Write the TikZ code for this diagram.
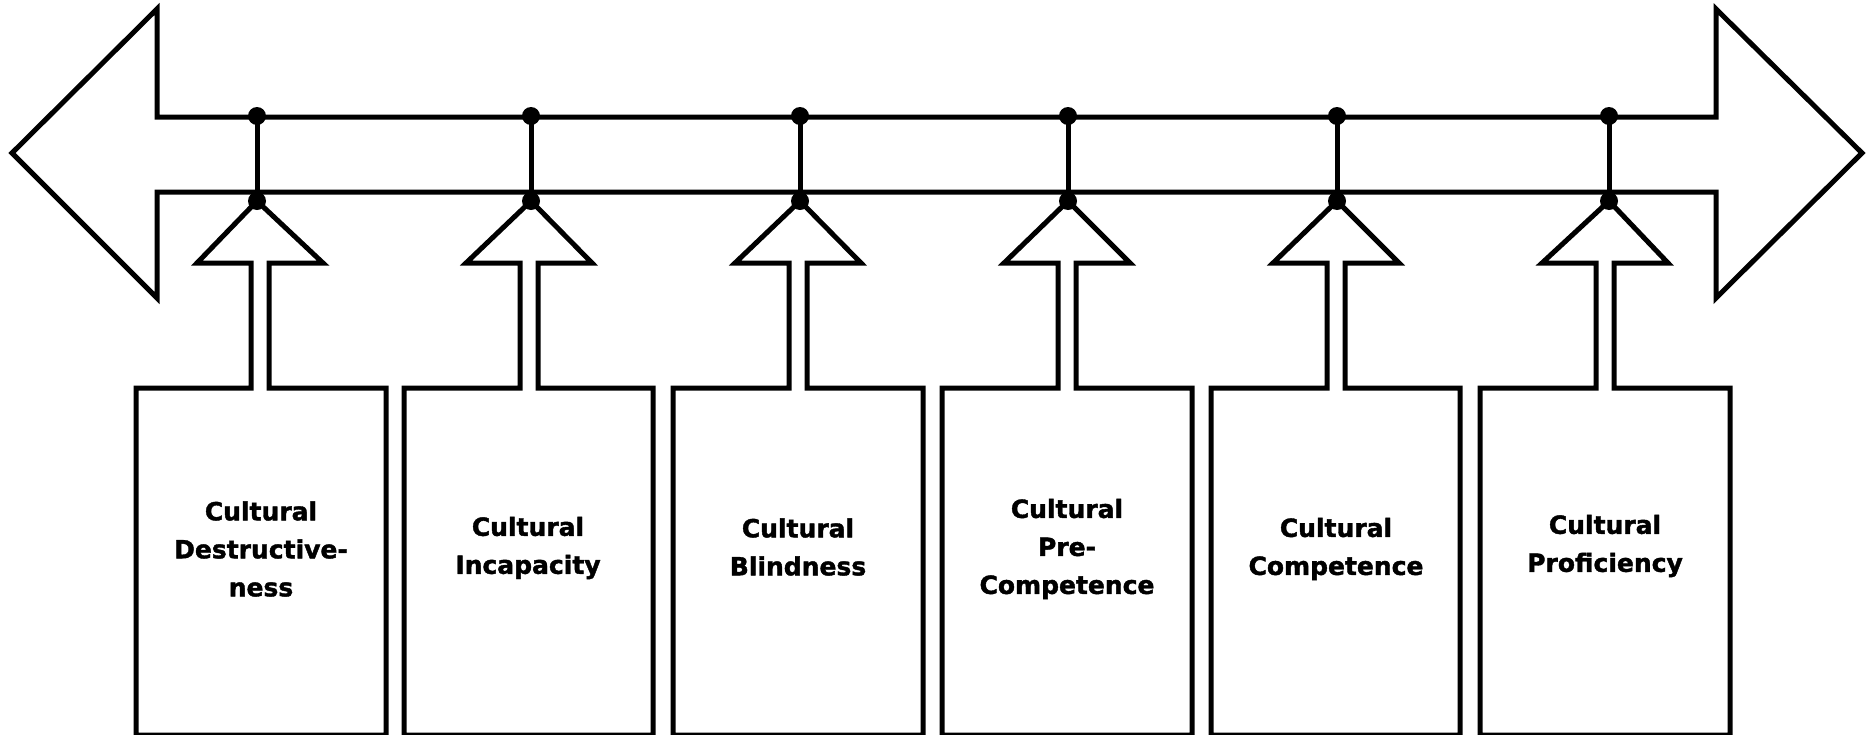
\documentclass[tikz,border=0pt]{standalone}
\usepackage{fontspec}
\newfontfamily\lblfont{DejaVu Sans}[BoldFeatures={FakeBold=1.6}]
\begin{document}
\begin{tikzpicture}[x=1pt,y=-1pt,
  outline/.style={draw=black, line width=5pt, line join=miter},
  link/.style={draw=black, line width=5pt},
  dot/.style={circle, fill=black, inner sep=0pt, minimum size=18pt},
  lbl/.style={font=\lblfont\bfseries\fontsize{25}{38}\selectfont, align=center, inner sep=0pt}]
\useasboundingbox (0,0) rectangle (1872,734);
% double-headed big arrow
\draw[outline] (12,153) -- (157,9) -- (157,117) -- (1716,117) -- (1716,9) -- (1862,153)
  -- (1716,298) -- (1716,192) -- (157,192) -- (157,298) -- cycle;
% stages
\foreach \i/\d/\l/\r/\c in {1/257/136/386/260, 2/531/404/653/529, 3/800/673/923/798,
    4/1068/942/1192/1067, 5/1337/1211/1460/1336, 6/1609/1480/1730/1605} {
  \draw[outline] (\l,735) -- (\l,388) -- ({\c-9},388) -- ({\c-9},263) -- ({\c-63},263)
    -- (\d,201) -- ({\c+63},263) -- ({\c+9},263) -- ({\c+9},388) -- (\r,388) -- (\r,735) -- cycle;
  \node[dot] (top\i) at (\d,116) {};
  \node[dot] (bot\i) at (\d,201) {};
  \draw[link] (top\i.center) -- (bot\i.center);
}
\node[lbl] (l1) at (261,549) {Cultural\\Destructive-\\ness};
\node[lbl] (l2) at (528,548) {Cultural\\Incapacity};
\node[lbl] (l3) at (798,547) {Cultural\\Blindness};
\node[lbl] (l4) at (1067,549) {Cultural\\Pre-\\Competence};
\node[lbl] (l5) at (1336,549) {Cultural\\Competence};
\node[lbl] (l6) at (1605,546) {Cultural\\Proficiency};
\end{tikzpicture}
\end{document}
